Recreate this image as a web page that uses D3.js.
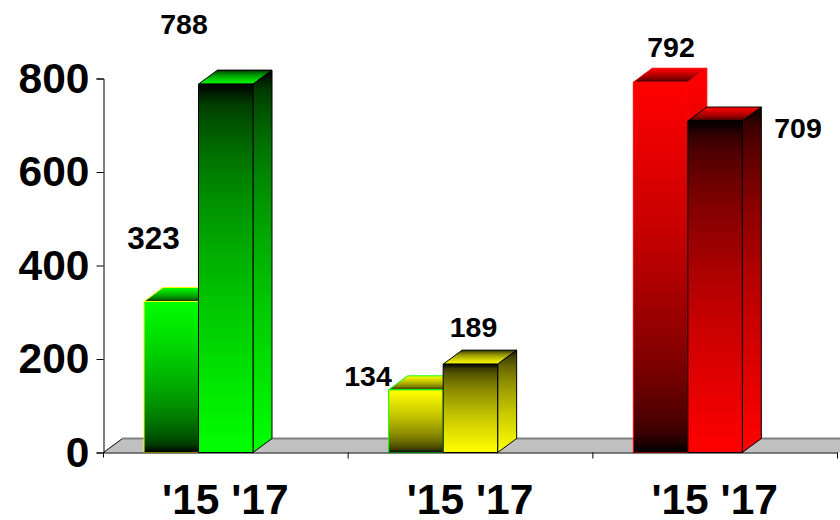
<!DOCTYPE html>
<html><head><meta charset="utf-8">
<script src="https://cdn.jsdelivr.net/npm/d3@7/dist/d3.min.js"></script>
<style>html,body{margin:0;padding:0;background:#fff}svg{display:block}text{font-family:"Liberation Sans",Arial,sans-serif;font-weight:bold;fill:#000}</style>
</head><body><script>
const groups = ["A", "B", "C"];
const years = ["'15", "'17"];
const values15 = [323, 134, 792];
const values17 = [788, 189, 709];
const yTicks = [0, 200, 400, 600, 800];
const baseColors = ["#00ff00", "#ffff00", "#ff0000"];
const outlines15 = ["#ffff00", "#00ff00", "#ff0000"];
const outlines17 = ["#000000", "#000000", "#000000"];
const topGrad17 = ["up", "up", "down"];

const W = 840, H = 520, dx = 19, dy = 14;
const svg = d3.select("body").append("svg").attr("width", W).attr("height", H);
const y = d3.scaleLinear().domain([0, 800]).range([452.5, 78.5]);
const xGroup = d3.scaleBand().domain(groups).range([103.5, 837.5]);
const barW = 54.5;
const defs = svg.append("defs");
const gradSteps = d3.range(0, 1.0001, 0.05);
function grad(id, c, f) {
  const g = defs.append("linearGradient").attr("id", id).attr("x1", 0).attr("y1", 0).attr("x2", 0).attr("y2", 1);
  gradSteps.forEach(t => g.append("stop").attr("offset", t).attr("stop-color", d3.interpolateRgb("#000000", c)(f(t))));
}
baseColors.forEach((c, i) => {
  grad("up" + i, c, t => Math.sqrt(t));
  grad("down" + i, c, t => Math.sqrt(1 - t));
});

// floor
const y0 = y(0), xL = xGroup.range()[0], xR = W + 5;
svg.append("polygon").attr("points", [[xL, y0], [xL + dx, y0 - dy], [xR, y0 - dy], [xR, y0]].join(" ")).attr("fill", "#c0c0c0");
svg.append("path").attr("d", `M${xL},${y0}L${xL + dx},${y0 - dy}`).attr("stroke", "#000").attr("fill", "none");
svg.append("path").attr("d", `M${xL + dx},${y0 - dy}H${xR}`).attr("stroke", "#808080").attr("stroke-width", 2).attr("fill", "none");

function bar(x, v, frontFill, sideFill, topFill, stroke) {
  const yt = y(v);
  const g = svg.append("g").attr("stroke", stroke).attr("stroke-width", 1).attr("stroke-linejoin", "round");
  g.append("polygon").attr("points", [[x, yt], [x + dx, yt - dy], [x + barW + dx, yt - dy], [x + barW, yt]].join(" ")).attr("fill", topFill);
  g.append("polygon").attr("points", [[x + barW, yt], [x + barW + dx, yt - dy], [x + barW + dx, y0 - dy], [x + barW, y0]].join(" ")).attr("fill", sideFill);
  g.append("rect").attr("x", x).attr("y", yt).attr("width", barW).attr("height", y0 - yt).attr("fill", frontFill);
}
groups.forEach((g, i) => {
  const x0 = xGroup(g) + 40.5;
  bar(x0, values15[i], `url(#down${i})`, `url(#down${i})`, `url(#down${i})`, outlines15[i]);
  bar(x0 + barW, values17[i], `url(#up${i})`, `url(#up${i})`, `url(#${topGrad17[i]}${i})`, outlines17[i]);
});

// axes
const yAxis = d3.axisLeft(y).tickValues(yTicks).tickSize(7).tickPadding(7);
const ya = svg.append("g").attr("transform", `translate(${xL},0)`).call(yAxis);
ya.selectAll("text").style("font-size", "42.5px").style("font-family", '"Liberation Sans",Arial,sans-serif').style("font-weight", "bold").attr("fill", "#000");
ya.selectAll("line").attr("stroke", "#000");
ya.select(".domain").attr("stroke", "#000");
ya.append("line").attr("x1", 0).attr("x2", 0).attr("y1", y0).attr("y2", y0 + 5).attr("stroke", "#000");

const xAxis = d3.axisBottom(xGroup).tickValues([]).tickSize(0);
const xa = svg.append("g").attr("transform", `translate(0,${y0})`).call(xAxis);
xa.select(".domain").attr("stroke", "#000");
const edges = groups.map(g => xGroup(g) + xGroup.step());
svg.selectAll(".xt").data(edges).join("line").attr("x1", d => d).attr("x2", d => d).attr("y1", y0).attr("y2", y0 + 6).attr("stroke", "#000");

svg.selectAll(".cat").data(groups).join("text").attr("x", g => xGroup(g) + xGroup.bandwidth() / 2 - 0.5).attr("y", 514)
  .attr("text-anchor", "middle").style("font-size", "42.5px").text(() => years.join(" "));

const labelX15 = [153.5, 368, 671], labelX17 = [184, 473.5, 798];
const labelY15 = [249, 386, 57], labelY17 = [34, 337, 138];
const labelSize15 = ["31.5px", "28.5px", "28.5px"];
const labelSize17 = ["28.5px", "28.5px", "28.5px"];
values15.forEach((v, i) => svg.append("text").attr("x", labelX15[i]).attr("y", labelY15[i]).attr("text-anchor", "middle").style("font-size", labelSize15[i]).text(v));
values17.forEach((v, i) => svg.append("text").attr("x", labelX17[i]).attr("y", labelY17[i]).attr("text-anchor", "middle").style("font-size", labelSize17[i]).text(v));
</script></body></html>
